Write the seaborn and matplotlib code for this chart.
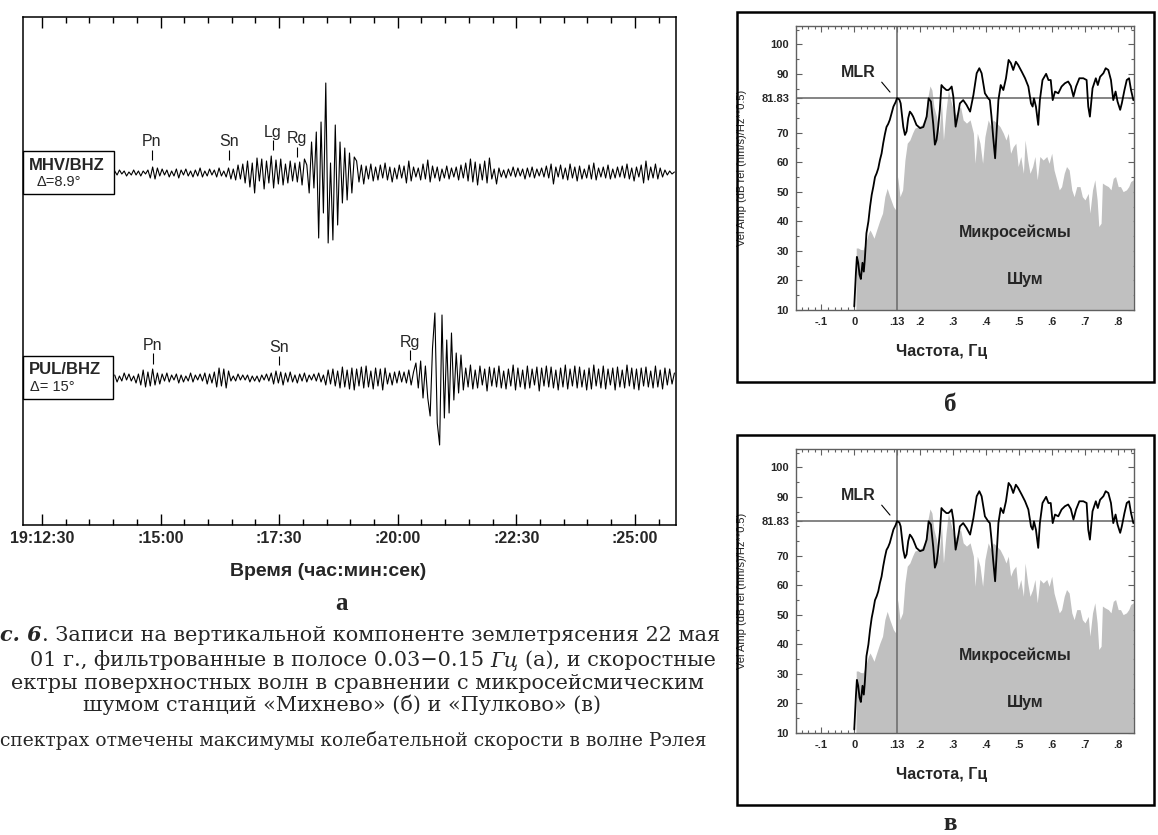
import numpy as np
import matplotlib
matplotlib.use("Agg")
import matplotlib.pyplot as plt
import seaborn as sns
from matplotlib.patches import Rectangle
from matplotlib.ticker import MultipleLocator, FixedLocator

# ------------------------------------------------------------------ data
trace_dt = 3.0      # s between digitised samples
trace_t0 = 92.0     # s after 19:12:30 of the first sample

mhv_amp = [2, -2, 3, -1, 2, -3, 1, -2, 3, -2, 2, -3, 2, -1, 3,
           -5, 6, -6, 5,
           -3, 4, -2, 3, -4, 2, -3, 4, -5, 3, -2, 4, -3, 2, -4, 3, -3, 5, -4, 2,
           -3, 4, -2, 3, -4, 5, -3, 2, -4,
           5, -6, 4, -7, 8, -6, 9, -10,
           12, -14, 10, -20, 15, -8, 14, -16, 12, -10, 17,
           -15, 13, -11, 14, -12, 9, -10, 12, -8, 10,
           -9, 11, -12, 14, 8, -20,
           31, -15, 41, -65, 51, -40, 90, -70, 10, -67, 48, -52, 31, -30, 25, -27, 20, -20, 16,
           12, -9, 8, -11, 7, -6, 9, -8, 6, -7,
           8, -5, 10, -7, 6, -9, 5, -6, 8, -5,
           7, -10, 12, -8, 6, -4, 5, -7, 9, -6,
           13, -9, 7, -5, 6, -8, 4, -5, 7, -6,
           5, -4, 6, -7, 8, -5, 10, -8, 14, -9,
           11, -12, 9, -7, 12, -10, 15, -6, 4, -11,
           5, -4, 3, -5, 4, -3, 6, -4, 5, -3,
           4, -6, 5, -4, 6, -5, 4, -3, 5, -4,
           7, -5, 9, -11, 6, -4, 8, -6, 5, -7,
           9, -5, 6, -8, 7, -6, 4, -5, 8, -6,
           10, -7, 5, -4, 6, -5, 8, -6, 4, -5,
           6, -4, 7, -5, 9, -6, 5, -8, 6, -4,
           8, -10, 12, -7, 6, -5, 9, -6, 5, -4,
           3, -2, 2, -1, 1]

pul_amp = [3, -4, 2, -3, 5, -2, 4, -3, 2, -5, 4,
           -7, 8, -9, 6, -8, 9, -7, 5, -6,
           4, -3, 5, -4, 3, -2, 4, -5, 3, -4, 2, -3, 5, -4, 3, -2, 4, -3, 5, -6, 4, -5, 6,
           -9, 10, -8, 9, -10, 7,
           -3, 2, -3, 4, -2, 3, -2, 3, -4, 2, -3, 2, -4, 3, -2, 4, -3,
           5, -6, 7, -5, 6, -7, 5, -4, 6,
           -4, 3, -5, 4, -3, 5, -4, 3, -2, 4, -3, 5, -4, 3,
           -7, 8, -6, 9, -8, 7, -10, 11, -9, 8,
           -11, 10, -12, 9, -8, 11, -10, 12, -9, 7, -11, 10, -8, 9, -12, 10,
           -6, 5, -7, 6, -5, 7, -4, 6, -5, 8, -7, 6,
           15, -10, 17, -20, 12,
           -20, -38, 30, 65, -45, -67, 63, -40, 38, -35, 45, -22, 25, -15, 23,
           -12, 10, -9, 13, -11, 8, -10, 12, -7, 9,
           -13, 11, -8, 10, -9, 12, -10, 7, -11, 9,
           -8, 13, -12, 10, -9, 8, -11, 12, -10, 9,
           -7, 11, -13, 10, -8, 12, -9, 11, -10, 8,
           -12, 10, -9, 13, -11, 9, -8, 12, -10, 11,
           -9, 8, -12, 10, -11, 13, -8, 9, -10, 12,
           -11, 9, -7, 10, -12, 11, -9, 8, -10, 13,
           -8, 10, -11, 9, -12, 10, -8, 11, -9, 7,
           -10, 12, -9, 8, -11, 10, -7, 9, -6, 5]

time_ticks_s = [0, 150, 300, 450, 600, 750]
time_tick_labels = ["19:12:30", ":15:00", ":17:30", ":20:00", ":22:30", ":25:00"]

mhv_phases = ["Pn", "Sn", "Lg", "Rg"]
mhv_phase_t = [139, 237, 292, 323]
pul_phases = ["Pn", "Sn", "Rg"]
pul_phase_t = [140, 300, 466]

freq_sig = [0.000, 0.005, 0.008, 0.012, 0.016, 0.020, 0.025, 0.029, 0.032, 0.037,
            0.043, 0.048, 0.053, 0.058, 0.063, 0.068, 0.073, 0.078, 0.083, 0.088,
            0.093, 0.098, 0.103, 0.108, 0.113, 0.119, 0.126, 0.130, 0.137, 0.141,
            0.145, 0.149, 0.154, 0.159, 0.164, 0.169, 0.174, 0.179, 0.189, 0.200,
            0.210, 0.220, 0.226, 0.233, 0.240, 0.245, 0.250, 0.255, 0.260, 0.265,
            0.270, 0.275, 0.280, 0.286, 0.291, 0.296, 0.301, 0.308, 0.314, 0.321,
            0.331, 0.341, 0.352, 0.362, 0.372, 0.380, 0.387, 0.397, 0.407, 0.412,
            0.417, 0.422, 0.428, 0.433, 0.438, 0.445, 0.453, 0.461, 0.469, 0.476,
            0.483, 0.491, 0.498, 0.509, 0.519, 0.529, 0.537, 0.542, 0.546, 0.552,
            0.559, 0.564, 0.572, 0.583, 0.590, 0.597, 0.603, 0.610, 0.620, 0.630,
            0.640, 0.650, 0.658, 0.666, 0.674, 0.684, 0.696, 0.706, 0.711, 0.716,
            0.724, 0.734, 0.740, 0.747, 0.757, 0.764, 0.772, 0.780, 0.787, 0.794,
            0.800, 0.808, 0.813, 0.821, 0.828, 0.835, 0.841, 0.848]
amp_sig = [11.2, 22.5, 28, 26, 22, 20.5, 26, 23, 27, 36,
           40, 45, 49, 51.8, 55, 56.3, 58, 60.8, 63, 66.5,
           69.5, 72, 73, 74.4, 76.5, 78.9, 80.5, 81.8, 81.3, 80,
           76, 72, 69.3, 70.5, 75, 77.2, 76.5, 75.5, 72.7, 71.6,
           72, 75.5, 81.7, 80.6, 73, 66, 67.6, 72, 77.8, 86.2,
           85.5, 85, 84.5, 84.5, 85, 85.7, 82.3, 72.1, 75.5, 80,
           81.1, 79.5, 77.2, 82.8, 90.2, 91.9, 90.2, 83.4, 81.7, 81.1,
           75.5, 68.7, 61.4, 71, 81.1, 86.2, 84.5, 88.5, 94.7, 93.6,
           91.3, 94.1, 93, 90.7, 88.5, 85.7, 80, 78.9, 81.7, 78.9,
           72.7, 81.1, 87.9, 90, 87.9, 87.9, 81.1, 84, 83.4, 85.7,
           86.8, 87.4, 85.9, 82.3, 85.7, 88.5, 88.5, 87.9, 78.9, 75.5,
           85.1, 88.5, 86.2, 89, 90.2, 91.9, 91.3, 87.9, 81.1, 84,
           80.6, 77.8, 80, 84.5, 87.9, 88.5, 84.5, 81.1]

freq_noise = [0.005, 0.006, 0.012, 0.019, 0.027, 0.032, 0.037, 0.043, 0.048, 0.053,
              0.060, 0.068, 0.078, 0.086, 0.093, 0.100, 0.108, 0.119, 0.126, 0.132,
              0.139, 0.147, 0.154, 0.161, 0.169, 0.177, 0.184, 0.195, 0.205, 0.215,
              0.222, 0.230, 0.236, 0.242, 0.250, 0.258, 0.265, 0.271, 0.279, 0.286,
              0.293, 0.301, 0.309, 0.316, 0.323, 0.331, 0.341, 0.352, 0.362, 0.367,
              0.374, 0.382, 0.390, 0.397, 0.407, 0.415, 0.422, 0.433, 0.443, 0.453,
              0.461, 0.468, 0.475, 0.483, 0.491, 0.498, 0.506, 0.514, 0.519, 0.527,
              0.534, 0.542, 0.549, 0.556, 0.564, 0.574, 0.585, 0.592, 0.600, 0.607,
              0.615, 0.623, 0.630, 0.638, 0.645, 0.653, 0.661, 0.668, 0.676, 0.686,
              0.693, 0.701, 0.711, 0.716, 0.724, 0.731, 0.738, 0.743, 0.750, 0.754,
              0.762, 0.772, 0.780, 0.787, 0.794, 0.802, 0.809, 0.817, 0.827, 0.834,
              0.840, 0.848]
amp_noise = [10, 31, 31, 30.5, 30.4, 32, 33.7, 36, 37.1, 36,
             34.3, 37.1, 40.5, 42.8, 48.4, 51.2, 48.4, 45, 43.9, 55.2,
             48.4, 50.7, 60.8, 66.5, 67.6, 69.9, 71.6, 72.1, 72.7, 74.9,
             81.1, 85.9, 84.5, 78.9, 75.5, 69.9, 81.1, 67.6, 77.8, 84.5,
             81.1, 77.8, 76.1, 77.8, 78.9, 74.4, 73.3, 74.4, 69.9, 59.7,
             69.9, 66.5, 59.7, 68.7, 74.4, 72.1, 74.4, 73.3, 72.1, 69.9,
             67.6, 69.9, 63.1, 65.3, 66.5, 58.6, 62, 56.3, 67.6, 60.8,
             56.3, 58.6, 62, 54.1, 62, 60.8, 62, 59.7, 63.1, 57.4,
             54.1, 50.7, 51.8, 56.3, 58.6, 57.4, 50.7, 48.4, 51.8, 51.8,
             48.4, 47.3, 49.5, 42.8, 50.7, 54.1, 47.3, 38.3, 39.4, 53,
             52.4, 51.8, 50.7, 54.6, 55.2, 51.8, 51.8, 50.1, 50.7, 51.8,
             53.5, 54.1]

mlr_freq = 0.13
mlr_amp = 81.83
spec_xticks = [-0.1, 0.0, 0.13, 0.2, 0.3, 0.4, 0.5, 0.6, 0.7, 0.8]
spec_xticklabels = ["-.1", "0", ".13", ".2", ".3", ".4", ".5", ".6", ".7", ".8"]
spec_yticks = [10, 20, 30, 40, 50, 60, 70, 81.83, 90, 100]
spec_yticklabels = ["10", "20", "30", "40", "50", "60", "70", "81.83", "90", "100"]

# ------------------------------------------------------------------ figure
W, H = 1158, 835
sns.set_style("white")
plt.rcParams['font.family'] = ['Liberation Sans', 'DejaVu Sans']
SERIF = ['Liberation Serif', 'DejaVu Serif']
CAPSERIF = ['DejaVu Serif', 'Liberation Serif']

fig = plt.figure(figsize=(W / 100, H / 100), dpi=100)
fig.patch.set_facecolor('white')


def frac_rect(x0, y0, x1, y1):
    return [x0 / W, 1 - y1 / H, (x1 - x0) / W, (y1 - y0) / H]


# ---------------- left: seismograms
ax = fig.add_axes(frac_rect(23, 17, 676, 525))
ax.set_xlim(-24, 802)
ax.set_ylim(0, 508)
mhv_base, pul_base = 352, 147

t_mhv = trace_t0 + trace_dt * np.arange(len(mhv_amp))
t_pul = trace_t0 + trace_dt * np.arange(len(pul_amp))
sns.lineplot(x=t_mhv, y=np.array(mhv_amp) + mhv_base, ax=ax, color='black',
             linewidth=0.8, estimator=None, sort=False)
sns.lineplot(x=t_pul, y=np.array(pul_amp) + pul_base, ax=ax, color='black',
             linewidth=0.8, estimator=None, sort=False)

mhv_marks = {"Pn": (13, 23, 32), "Sn": (13, 23, 32), "Lg": (23, 33, 41), "Rg": (16, 26, 34)}
pul_marks = {"Pn": (14, 25, 33), "Sn": (13, 22, 31), "Rg": (18, 28, 36)}
for names, times, base, marks in [(mhv_phases, mhv_phase_t, mhv_base, mhv_marks),
                                  (pul_phases, pul_phase_t, pul_base, pul_marks)]:
    for nm, tt in zip(names, times):
        lo, hi, lab = marks[nm]
        ax.vlines(tt, base + lo, base + hi, color='black', lw=0.8)
        ax.text(tt, base + lab, nm, ha='center', va='center', fontsize=11.5)

ax.set_yticks([])
ax.xaxis.set_major_locator(FixedLocator(time_ticks_s))
ax.set_xticklabels(time_tick_labels, fontsize=11.5, fontweight='bold')
ax.xaxis.set_minor_locator(MultipleLocator(30))
ax.tick_params(axis='x', which='both', direction='in', top=True, bottom=True,
               color='black', pad=4)
ax.tick_params(axis='x', which='major', length=8, width=1)
ax.tick_params(axis='x', which='minor', length=4, width=1)
for s in ax.spines.values():
    s.set_visible(True)
    s.set_color('black')
    s.set_linewidth(1.1)

# station boxes
for (x0, y0, x1, y1), l1, l2, p1, p2 in [
        ((23, 151, 114, 194), "MHV/BHZ", "Δ=8.9°", (29, 165), (37, 182)),
        ((23, 356, 113, 399), "PUL/BHZ", "Δ= 15°", (29, 370), (30, 387))]:
    fig.add_artist(Rectangle((x0 / W, 1 - y1 / H), (x1 - x0) / W, (y1 - y0) / H,
                             transform=fig.transFigure, facecolor='white',
                             edgecolor='black', lw=1, zorder=5))
    fig.text(p1[0] / W, 1 - p1[1] / H, l1, ha='left', va='center', fontsize=12,
             fontweight='bold', zorder=6)
    fig.text(p2[0] / W, 1 - p2[1] / H, l2, ha='left', va='center', fontsize=10.5,
             zorder=6)

fig.text(328 / W, 1 - 572 / H, "Время (час:мин:сек)", ha='center', va='center',
         fontsize=14, fontweight='bold')
fig.text(341 / W, 1 - 604 / H, "а", ha='center', va='center', fontsize=18,
         fontweight='bold', family=SERIF)


# ---------------- right: spectra
def draw_spectrum(axs):
    axs.set_xlim(-0.177, 0.85)
    axs.set_ylim(10, 106.2)
    axs.fill_between(freq_noise, 10, amp_noise, color='#c0c0c0', lw=0, zorder=1)
    axs.axhline(mlr_amp, color='#707070', lw=1.2, zorder=2)
    axs.axvline(mlr_freq, color='#707070', lw=1.2, zorder=2)
    sns.lineplot(x=freq_sig, y=amp_sig, ax=axs, color='black', linewidth=1.3,
                 estimator=None, sort=False, zorder=3)
    axs.set_xticks(spec_xticks)
    axs.set_xticklabels(spec_xticklabels, fontsize=8, fontweight='bold')
    axs.set_yticks(spec_yticks)
    axs.set_yticklabels(spec_yticklabels, fontsize=8, fontweight='bold')
    axs.xaxis.set_minor_locator(MultipleLocator(0.02))
    axs.yaxis.set_minor_locator(MultipleLocator(5))
    axs.tick_params(which='both', direction='in', top=True, right=True,
                    bottom=True, left=True, color='#606060')
    axs.tick_params(which='major', length=4, width=0.8, pad=5)
    axs.tick_params(which='minor', length=2, width=0.8)
    for s in axs.spines.values():
        s.set_visible(True)
        s.set_color('#606060')
        s.set_linewidth(1)
    axs.set_xlabel("Частота, Гц", fontsize=11.5, fontweight='bold')
    axs.xaxis.set_label_coords(0.43, -0.12)
    axs.set_ylabel("Vel Amp (dB rel (nm/s)/Hz**0.5)", fontsize=8)
    axs.yaxis.set_label_coords(-0.145, 0.5)
    axs.text(0.011, 90.6, "MLR", ha='center', va='center', fontsize=11.5,
             fontweight='bold', zorder=4)
    axs.annotate("", xy=(0.114, 83.1), xytext=(0.078, 87.9),
                 arrowprops=dict(arrowstyle='-', color='black', lw=0.8))
    axs.text(0.488, 36.4, "Микросейсмы", ha='center', va='center', fontsize=11.5,
             fontweight='bold', zorder=4)
    axs.text(0.519, 20.5, "Шум", ha='center', va='center', fontsize=11.5,
             fontweight='bold', zorder=4)


for off, lab, laby in [(0, "б", 405), (423, "в", 823)]:
    fig.add_artist(Rectangle((737 / W, 1 - (382 + off) / H), (1154 - 737) / W,
                             (382 - 12) / H, transform=fig.transFigure,
                             facecolor='none', edgecolor='black', lw=1.8, zorder=5))
    axs = fig.add_axes(frac_rect(796, 26 + off, 1134, 310 + off))
    draw_spectrum(axs)
    fig.text(950 / W, 1 - laby / H, lab, ha='center', va='center', fontsize=18,
             fontweight='bold', family=SERIF)

# ---------------- caption
renderer = fig.canvas.get_renderer()


def layout_line(texts, gaps, fs):
    x = 0.0
    for t, gap in zip(texts, gaps):
        t.set_fontsize(fs)
        x += gap * fs * 0.3 * 100 / 72
        t.set_x(x / W)
        x = t.get_window_extent(renderer).x1
    return x


def rich_line(y_px, parts, x_end_px=None, fit_width=None, fs=14.0):
    """Mixed-style caption line; either fitted to a width or right-anchored."""
    texts, gaps = [], []
    for txt, style, weight, gap in parts:
        texts.append(fig.text(0, 1 - y_px / H, txt, ha='left', va='baseline',
                              family=CAPSERIF, style=style, fontweight=weight))
        gaps.append(gap)
    end = layout_line(texts, gaps, fs)
    if fit_width is not None:
        fs = fs * fit_width / end
        end = layout_line(texts, gaps, fs)
    if x_end_px is not None:
        shift = max(x_end_px - end, 0.0) / W
        for t in texts:
            t.set_x(t.get_position()[0] + shift)
    return fs


cap_fs = rich_line(641, [("с. 6", 'italic', 'bold', 0),
                         (". Записи на вертикальной компоненте землетрясения 22 мая",
                          'normal', 'normal', 0)], fit_width=720)
rich_line(666, [("01 г., фильтрованные в полосе 0.03−0.15", 'normal', 'normal', 0),
                ("Гц", 'italic', 'normal', 1),
                ("(а), и скоростные", 'normal', 'normal', 1)], x_end_px=716, fs=cap_fs)
rich_line(689, [("ектры поверхностных волн в сравнении с микросейсмическим",
                 'normal', 'normal', 0)], x_end_px=704, fs=cap_fs)
fig.text(342 / W, 1 - 711 / H, "шумом станций «Михнево» (б) и «Пулково» (в)",
         ha='center', va='baseline', fontsize=cap_fs, family=CAPSERIF)
rich_line(746, [("спектрах отмечены максимумы колебательной скорости в волне Рэлея",
                 'normal', 'normal', 0)], fit_width=714)

fig.savefig("out.png", dpi=100, facecolor='white')
